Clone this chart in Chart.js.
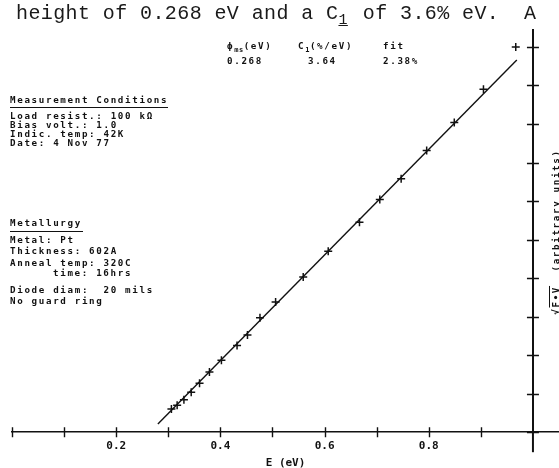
<!DOCTYPE html>
<html><head><meta charset="utf-8">
<script src="https://cdn.jsdelivr.net/npm/chart.js@4.4.0/dist/chart.umd.min.js"></script>
<style>
html,body{margin:0;padding:0;background:#fff;}
#wrap{position:relative;width:559px;height:468px;overflow:hidden;background:#fff;}
#c{position:absolute;left:0;top:0;}
.t{position:absolute;font-family:"DejaVu Sans Mono",monospace;font-weight:bold;font-size:9.2px;letter-spacing:1.66px;line-height:10px;color:#111;white-space:pre;}
.hdr{position:absolute;left:16px;top:4px;font-family:"Liberation Mono",monospace;font-size:20px;letter-spacing:0.4px;line-height:20px;color:#1a1a1a;white-space:pre;}
.sb{font-size:7px;position:relative;top:3px;letter-spacing:0.5px;}
.ul{position:absolute;height:0;border-top:1.6px solid #111;}
</style></head><body>
<div id="wrap">
<canvas id="c" width="559" height="468"></canvas>
<div class="hdr">height of 0.268 eV and a C<span style="display:inline-block;width:12px;font-size:15px;position:relative;top:5px;text-decoration:underline;">1</span> of 3.6% eV.  A</div>

<div class="t" style="left:227px;top:41px;">ϕ<span class="sb">ms</span>(eV)</div>
<div class="t" style="left:298px;top:41px;">C<span class="sb">1</span>(%/eV)</div>
<div class="t" style="left:383px;top:41px;">fit</div>
<div class="t" style="left:227px;top:56px;">0.268</div>
<div class="t" style="left:308px;top:56px;">3.64</div>
<div class="t" style="left:383px;top:56px;">2.38%</div>

<div class="t" style="left:10px;top:95px;">Measurement Conditions</div>
<div class="ul" style="left:10px;top:107px;width:158px;"></div>
<div class="t" style="left:10px;top:111px;line-height:9px;">Load resist.: 100 kΩ
Bias volt.: 1.0
Indic. temp: 42K
Date: 4 Nov 77</div>

<div class="t" style="left:10px;top:218px;">Metallurgy</div>
<div class="ul" style="left:10px;top:231px;width:73px;"></div>
<div class="t" style="left:10px;top:234px;line-height:11.3px;">Metal: Pt
Thickness: 602A
Anneal temp: 320C</div>
<div class="t" style="left:53px;top:268px;">time: 16hrs</div>
<div class="t" style="left:10px;top:284px;line-height:11px;">Diode diam:  20 mils
No guard ring</div>

<div class="t" style="left:471px;top:227px;width:170px;text-align:center;transform:rotate(-90deg);transform-origin:50% 50%;">√<span style="text-decoration:overline;">F•V</span>  (arbitrary units)</div>
</div>
<script>
// ---- data ----
const energy = [0.306,0.317,0.330,0.344,0.360,0.379,0.402,0.432,0.452,0.476,0.506,0.559,0.607,0.667,0.706,0.747,0.796,0.849,0.905,0.967];
const sqrtFV = [0.60,0.70,0.84,1.04,1.27,1.56,1.87,2.25,2.52,2.97,3.38,4.03,4.70,5.45,6.04,6.58,7.31,8.04,8.90,10.0];
const fitE = [0.280, 0.969];
const fitY = [0.21, 9.66];
const xTickValues = [0,0.1,0.2,0.3,0.4,0.5,0.6,0.7,0.8,0.9];
const xTickLabels = ['','','0.2','','0.4','','0.6','','0.8',''];
const yTickValues = [0,1,2,3,4,5,6,7,8,9,10];
const xMin = 0, xMax = 1.05, yMin = 0, yMax = 10.44;
const yAxisAtE = 1.0;

const ink = '#111';
const monoFont = {family:'"DejaVu Sans Mono", monospace', size:11, weight:'bold'};

const crossTicks = {
  id:'crossTicks',
  afterDraw(chart){
    const {ctx, scales:{x, y}} = chart;
    const y0 = y.getPixelForValue(0);
    const xa = x.getPixelForValue(yAxisAtE);
    ctx.save();
    ctx.strokeStyle = ink;
    ctx.lineWidth = 1.4;
    ctx.beginPath();
    x.ticks.forEach(t => { const px = Math.round(x.getPixelForValue(t.value)) + 0.5; ctx.moveTo(px, y0 - 5); ctx.lineTo(px, y0 + 5); });
    y.ticks.forEach(t => { const py = Math.round(y.getPixelForValue(t.value)) + 0.5; ctx.moveTo(xa - 6, py); ctx.lineTo(xa + 6, py); });
    ctx.stroke();
    ctx.lineWidth = 2;
    ctx.beginPath();
    ctx.moveTo(xa, y0); ctx.lineTo(xa, y0 + 20);
    ctx.stroke();
    ctx.restore();
  }
};

new Chart(document.getElementById('c'), {
  type:'scatter',
  data:{
    datasets:[
      { label:'fit', type:'line', data: fitE.map((e,i)=>({x:e, y:fitY[i]})),
        borderColor:ink, borderWidth:1.4, pointRadius:0, fill:false, tension:0 },
      { label:'data', data: energy.map((e,i)=>({x:e, y:sqrtFV[i]})),
        pointStyle:'cross', pointRadius:4, borderColor:ink, backgroundColor:ink, borderWidth:1.5 }
    ]
  },
  options:{
    responsive:false, animation:false, devicePixelRatio:1,
    layout:{autoPadding:false, padding:{left:12, right:0, top:30, bottom:-5.6}},
    plugins:{legend:{display:false}, tooltip:{enabled:false}},
    scales:{
      x:{ type:'linear', position:'bottom', min:xMin, max:xMax,
        afterBuildTicks: s => { s.ticks = xTickValues.map(v => ({value:v})); },
        ticks:{ callback:(v,i) => xTickLabels[i] ?? '', font:monoFont, color:ink, padding:7, maxRotation:0, autoSkip:false },
        grid:{ display:false, drawTicks:false },
        border:{ display:true, color:ink, width:1.5 },
        title:{ display:true, text:'E (eV)', font:monoFont, color:ink, padding:{top:-3, bottom:4} }
      },
      y:{ type:'linear', position:{x:yAxisAtE}, min:yMin, max:yMax,
        afterBuildTicks: s => { s.ticks = yTickValues.map(v => ({value:v})); },
        ticks:{ display:false },
        grid:{ display:false, drawTicks:false },
        border:{ display:true, color:ink, width:2 },
        title:{ display:false }
      }
    }
  },
  plugins:[crossTicks]
});
</script>
</body></html>
